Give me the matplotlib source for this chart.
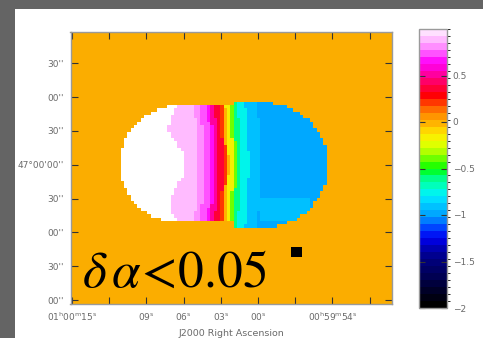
import numpy as np
import matplotlib
matplotlib.use("Agg")
import matplotlib.pyplot as plt
from matplotlib.colors import LinearSegmentedColormap, BoundaryNorm
from matplotlib.patches import Rectangle

# ---- map geometry (RA in seconds of time from 01h00m00s, Dec in arcsec from +47d00m00s)
ra_limits = [15.12, -10.8]
dec_limits = [-123.5, 117.8]
pixel_ra = 0.267
pixel_dec = 2.94

# two mosaic pointings: centre RA, centre Dec, semi-axes in RA (s) and Dec (")
pointing_ra = [6.53, -0.56]
pointing_dec = [0.7, 0.0]
radius_ra = [4.62, 5.0]
radius_dec = [51.9, 55.0]
join_ra = 2.1  # where the covered strip switches from one pointing's height to the other

# spectral index bands along the source mid-line, east to west
band_edges_ra = [6.05, 5.32, 4.92, 4.44, 3.87, 3.63, 3.31, 2.90, 2.66, 2.42,
                 2.10, 1.85, 1.45, 0.81, -0.16]
band_values = [1.2, 0.91, 0.86, 0.80, 0.72, 0.64, 0.52, 0.33, 0.18, -0.05,
               -0.16, -0.42, -0.62, -0.76, -0.90, -1.00]
band_bend = 0.32  # edges drift east towards the top and bottom of the source

# eastern edge of the steep-spectrum (white) zone, as a function of Dec
white_edge_dec = [-51.2, -47.6, -40.6, -31.7, -21.0, -13.9, -9.5, 10.9, 16.2, 25.1, 34.0, 44.6, 52.6]
white_edge_ra = [6.53, 6.69, 7.10, 7.10, 6.85, 6.29, 6.05, 6.05, 6.45, 7.10, 7.34, 6.94, 6.53]

# flatter patch in the south-west of the western lobe
patch_ra = [-0.16, -4.2]
patch_dec = [-51.0, -30.0]
patch_value = -0.90

# restoring beam marker
beam_ra, beam_dec = -3.08, -77.0
beam_w, beam_h = 0.88, 8.9

# colour scale
cbar_ticks = [0.5, 0, -0.5, -1, -1.5, -2]
cbar_labels = ["0.5", "0", "\u22120.5", "\u22121", "\u22121.5", "\u22122"]
anchor_values = [-2.0, -1.9, -1.7, -1.5, -1.4, -1.3, -1.2, -1.1, -1.0, -0.9, -0.8, -0.7,
                 -0.6, -0.5, -0.4, -0.3, -0.2, -0.1, 0.0, 0.1, 0.2, 0.3, 0.4, 0.5,
                 0.6, 0.7, 0.8, 0.9, 1.0]
anchor_colors = ["#000000", "#000018", "#000050", "#000080", "#0000a8", "#0000e0",
                 "#0020ff", "#0070ff", "#00a8ff", "#00c8ff", "#00f0ff", "#00ffc0",
                 "#00ff80", "#00ff00", "#60ff00", "#b8ff00", "#f0ff00", "#ffe000",
                 "#ffb400", "#ff8c00", "#ff5000", "#ff0000", "#ff0040", "#ff0080",
                 "#ff00d0", "#ff10ff", "#ff70ff", "#ffb0ff", "#ffe0ff"]
n_levels = 40

ra_ticks = [15, 12, 9, 6, 3, 0, -3, -6, -9]
ra_labels = [r"01$^{\rm h}$00$^{\rm m}$15$^{\rm s}$", "", r"09$^{\rm s}$", r"06$^{\rm s}$",
             r"03$^{\rm s}$", r"00$^{\rm s}$", "", r"00$^{\rm h}$59$^{\rm m}$54$^{\rm s}$", ""]
dec_ticks = [90, 60, 30, 0, -30, -60, -90, -120]
dec_labels = ["30''", "00''", "30''", "47\u00b000'00''", "30''", "00''", "30''", "00''"]

# ---- build the spectral index image
ncol = int(round((ra_limits[0] - ra_limits[1]) / pixel_ra))
nrow = int(round((dec_limits[1] - dec_limits[0]) / pixel_dec))
ra_c = ra_limits[0] + (np.arange(ncol) + 0.5) * (ra_limits[1] - ra_limits[0]) / ncol
dec_c = dec_limits[0] + (np.arange(nrow) + 0.5) * (dec_limits[1] - dec_limits[0]) / nrow
RA, DEC = np.meshgrid(ra_c, dec_c)

inside = np.zeros_like(RA, dtype=bool)
for cr, cd, rr, rd in zip(pointing_ra, pointing_dec, radius_ra, radius_dec):
    inside |= ((RA - cr) / rr) ** 2 + ((DEC - cd) / rd) ** 2 <= 1.0
between = (RA <= pointing_ra[0]) & (RA >= pointing_ra[1])
half_h = np.where(RA > join_ra, radius_dec[0], radius_dec[1])
centre_d = np.where(RA > join_ra, pointing_dec[0], pointing_dec[1])
inside |= between & (np.abs(DEC - centre_d) <= half_h)

ra_eff = RA - band_bend * (DEC / 55.0) ** 2
edges = np.array(band_edges_ra)
idx = np.searchsorted(-edges[1:], -ra_eff, side="right") + 1
vals = np.array(band_values)[idx]
white_edge = np.interp(DEC, white_edge_dec, white_edge_ra)
vals = np.where(RA > white_edge, band_values[0], vals)
in_patch = (RA < patch_ra[0]) & (RA > patch_ra[1]) & (DEC > patch_dec[0]) & (DEC < patch_dec[1])
vals = np.where(in_patch, patch_value, vals)
image = np.where(inside, vals, np.nan)

# ---- colour map
pos = [(v + 2.0) / 3.0 for v in anchor_values]
base = LinearSegmentedColormap.from_list("spec", list(zip(pos, anchor_colors)))
cmap = base.resampled(n_levels)
cmap.set_over("white")
cmap.set_bad("#fbad00")
norm = BoundaryNorm(np.linspace(-2.0, 1.0, n_levels + 1), cmap.N)

# ---- figure
W, H = 483, 338
fig = plt.figure(figsize=(W / 100, H / 100), dpi=100)
fig.patch.set_facecolor("white")
ax = fig.add_axes([70.5 / W, 1 - 304 / H, (392 - 70.5) / W, (304 - 32) / H])
im = ax.imshow(image, cmap=cmap, norm=norm, origin="lower", interpolation="nearest",
               extent=[ra_limits[0], ra_limits[1], dec_limits[0], dec_limits[1]], aspect="auto")
ax.set_xlim(ra_limits)
ax.set_ylim(dec_limits)

ax.add_patch(Rectangle((beam_ra + beam_w / 2, beam_dec - beam_h / 2), -beam_w, beam_h,
                       facecolor="black", edgecolor="none", zorder=5))

ax.text((82 - 70.5) / (392 - 70.5), (304 - 287) / (304 - 32),
        r"$\delta\,\alpha\!<\!0.05$", transform=ax.transAxes, fontsize=37,
        math_fontfamily="stix", ha="left", va="baseline", color="black", zorder=6)

grey = "#6a6a6a"
ax.set_xticks(ra_ticks)
ax.set_xticklabels(ra_labels)
ax.set_yticks(dec_ticks)
ax.set_yticklabels(dec_labels)
ax.tick_params(direction="in", length=5, width=0.8, color="#333333", top=True, right=True,
               labelsize=6.5, labelcolor=grey, pad=5)
for s in ax.spines.values():
    s.set_color("#9a9a9a")
    s.set_linewidth(1.0)
ax.set_xlabel("J2000 Right Ascension", fontsize=6.8, color=grey, labelpad=4)

cax = fig.add_axes([419 / W, 1 - 308 / H, 28 / W, 279 / H])
cb = fig.colorbar(im, cax=cax, ticks=cbar_ticks)
cb.ax.set_yticklabels(cbar_labels)
cb.ax.tick_params(direction="in", length=4, width=0.8, color="#333333", left=True, right=True,
                  labelleft=False, labelright=True, labelsize=6.5, labelcolor=grey, pad=4)
cb.outline.set_edgecolor("#9a9a9a")
cb.outline.set_linewidth(1.0)

# dark frame around the panel
frame_col = "#646464"
fig.add_artist(Rectangle((0, 0), 15 / W, 1, transform=fig.transFigure,
                         facecolor=frame_col, edgecolor="none", zorder=20))
fig.add_artist(Rectangle((0, 1 - 9 / H), 1, 9 / H, transform=fig.transFigure,
                         facecolor=frame_col, edgecolor="none", zorder=20))

fig.savefig("out.png", dpi=100)
